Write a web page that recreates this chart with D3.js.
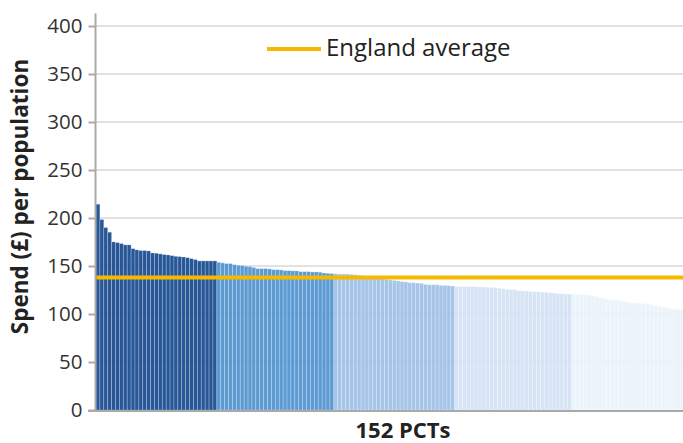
<!DOCTYPE html>
<html>
<head>
<meta charset="utf-8">
<script src="https://cdn.jsdelivr.net/npm/d3@7"></script>
<style>
  html, body { margin: 0; padding: 0; background: #fff; }
  svg { display: block; }
  text { font-family: "Open Sans", "Noto Sans", sans-serif; }
</style>
</head>
<body>
<svg id="chart" width="683" height="443"></svg>
<script>
// ---- data ----
const values = [
  214.4, 198.4, 190.1, 185.2, 175.1, 174.4, 173.4, 172.0, 172.0, 168.1,
  166.8, 166.1, 166.1, 165.7, 163.6, 163.3, 162.6, 161.9, 161.5, 160.8,
  160.1, 159.8, 159.4, 158.7, 157.7, 156.7, 155.3, 155.3, 155.3, 155.3,
  155.3,
  153.9, 153.2, 152.5, 152.5, 151.4, 150.7, 150.4, 149.7, 149.4, 148.4,
  147.3, 147.3, 147.3, 147.0, 146.2, 146.2, 145.9, 145.2, 145.2, 144.9,
  144.9, 144.1, 144.1, 144.1, 143.8, 143.8, 143.5, 142.7, 142.4, 142.0,
  142.0, 141.7, 141.7, 141.7, 141.4, 141.0, 140.3, 139.9, 139.5, 138.9,
  138.4, 137.7, 137.1, 136.1, 135.4, 135.0, 134.5, 133.7, 133.4, 132.6,
  132.6, 132.2, 131.9, 130.9, 130.5, 130.5, 130.5, 129.8, 129.8, 129.5,
  129.1,
  128.5, 128.5, 128.5, 128.5, 128.5, 128.5, 128.1, 128.1, 127.8, 127.8,
  127.4, 126.8, 126.4, 125.7, 125.3, 125.3, 124.3, 123.9, 123.9, 123.6,
  123.2, 123.2, 122.9, 122.5, 122.2, 121.9, 121.5, 121.2, 120.8, 120.8,
  120.5, 120.1, 120.1, 120.1, 119.8, 118.8, 118.1, 116.7, 116.0, 115.2,
  114.9, 114.6, 114.2, 113.5, 112.1, 111.4, 111.4, 111.1, 110.7, 110.7,
  109.3, 108.6, 107.9, 107.2, 106.5, 105.8, 104.8, 104.4, 104.4, 104.0
];
const groupSizes = [31, 30, 31, 30, 30];
const groupColors = ["#174a8f", "#4f93cf", "#9dc0e6", "#d3e2f4", "#eaf2fb"];
const englandAverage = 138;
const yTicks = [0, 50, 100, 150, 200, 250, 300, 350, 400];
const yTitle = "Spend (£) per population";
const xTitle = "152 PCTs";
const legendLabel = "England average";

// group index per bar
const groupOf = [];
groupSizes.forEach((n, g) => { for (let i = 0; i < n; i++) groupOf.push(g); });

// ---- layout ----
const svg = d3.select("#chart");
const W = 683, H = 443;
const left = 95.5, bottom = 410;

const y = d3.scaleLinear().domain([0, 400]).range([bottom, 26]);
const x = d3.scaleBand().domain(d3.range(values.length)).range([96, 688.6]).padding(0);

// gridlines
svg.append("g")
  .selectAll("line")
  .data(yTicks.filter(t => t > 0))
  .join("line")
  .attr("x1", left).attr("x2", W)
  .attr("y1", d => y(d)).attr("y2", d => y(d))
  .attr("stroke", "#e2e2e2").attr("stroke-width", 2);

// bars
svg.append("g")
  .selectAll("rect")
  .data(values)
  .join("rect")
  .attr("x", (d, i) => x(i))
  .attr("width", x.bandwidth())
  .attr("y", d => y(d))
  .attr("height", d => y(0) - y(d))
  .attr("fill", (d, i) => groupColors[groupOf[i]])
  .attr("fill-opacity", 0.93)
  .attr("stroke", "#ffffff")
  .attr("stroke-opacity", 0.35)
  .attr("stroke-width", 0.7);

// y axis
const yAxis = d3.axisLeft(y).tickValues(yTicks).tickSize(7).tickPadding(6);
const gy = svg.append("g").attr("transform", `translate(${left},0)`).call(yAxis);
gy.select(".domain").remove();
gy.selectAll(".tick line").attr("stroke", "#a9a9a9").attr("stroke-width", 2);
gy.selectAll(".tick text")
  .attr("fill", "#333").attr("font-size", 20.5)
  .attr("font-family", "'Open Sans', sans-serif");

// axis lines
svg.append("line")
  .attr("x1", left).attr("x2", left)
  .attr("y1", y(0) + 1).attr("y2", y(413))
  .attr("stroke", "#a9a9a9").attr("stroke-width", 2);
svg.append("line")
  .attr("x1", 88).attr("x2", W)
  .attr("y1", y(0) + 1).attr("y2", y(0) + 1)
  .attr("stroke", "#a9a9a9").attr("stroke-width", 2);

// England average line
svg.append("line")
  .attr("x1", left + 1).attr("x2", W)
  .attr("y1", y(englandAverage)).attr("y2", y(englandAverage))
  .attr("stroke", "#f7b900").attr("stroke-width", 4);

// legend
svg.append("line")
  .attr("x1", 267).attr("x2", 321).attr("y1", 49).attr("y2", 49)
  .attr("stroke", "#f7b900").attr("stroke-width", 4);
svg.append("text")
  .attr("x", 326).attr("y", 56)
  .attr("font-size", 24).attr("fill", "#222")
  .text(legendLabel);

// axis titles
svg.append("text")
  .attr("transform", `translate(28,${196.5}) rotate(-90)`)
  .attr("text-anchor", "middle")
  .attr("font-size", 22.5).attr("font-weight", "bold").attr("fill", "#222")
  .text(yTitle);
svg.append("text")
  .attr("x", 403).attr("y", 438)
  .attr("text-anchor", "middle")
  .attr("font-size", 22).attr("font-weight", "bold").attr("fill", "#222")
  .text(xTitle);
</script>
</body>
</html>
